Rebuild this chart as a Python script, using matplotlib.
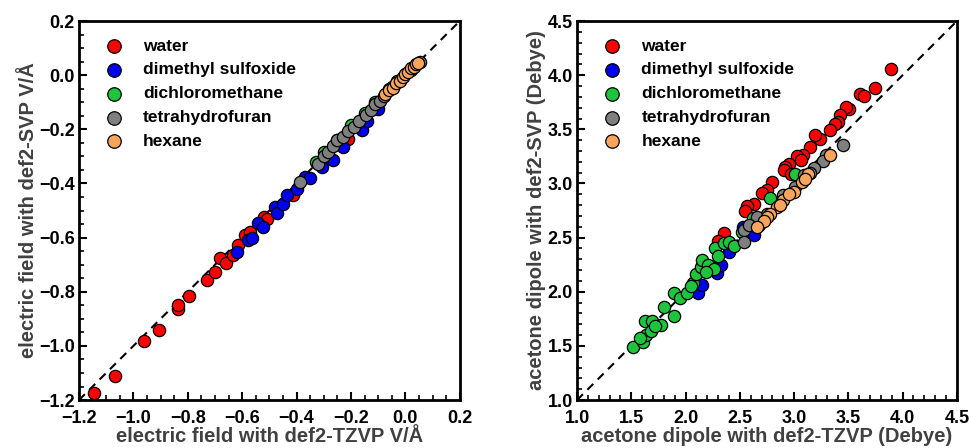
import matplotlib
matplotlib.use("Agg")
import matplotlib.pyplot as plt
from matplotlib.ticker import MultipleLocator
import numpy as np

plt.rcParams["font.family"] = ["Liberation Sans", "DejaVu Sans"]
plt.rcParams["font.weight"] = "bold"

SOLVENTS = ["water", "dimethyl sulfoxide", "dichloromethane", "tetrahydrofuran", "hexane"]
COLORS = ["#ff0000", "#0000ee", "#1ec43c", "#7f7f7f", "#f8a45c"]

# left panel: electric field (V/Å), def2-TZVP (x) vs def2-SVP (y)
field_water_x = [-1.144, -1.068, -0.961, -0.905, -0.837, -0.835, -0.795, -0.728, -0.700, -0.682,
                 -0.660, -0.633, -0.614, -0.590, -0.572, -0.520, -0.510, -0.412, -0.210, -0.300]
field_water_y = [-1.175, -1.111, -0.981, -0.941, -0.864, -0.849, -0.816, -0.757, -0.726, -0.677,
                 -0.695, -0.665, -0.628, -0.590, -0.579, -0.525, -0.530, -0.443, -0.234, -0.305]
field_dmso_x = [-0.620, -0.578, -0.565, -0.541, -0.525, -0.480, -0.472, -0.449, -0.437, -0.400,
                -0.370, -0.352, -0.308, -0.265, -0.230, -0.161, -0.140, -0.100]
field_dmso_y = [-0.652, -0.609, -0.600, -0.547, -0.560, -0.486, -0.510, -0.474, -0.443, -0.420,
                -0.376, -0.380, -0.339, -0.314, -0.265, -0.203, -0.170, -0.125]
field_dcm_x = [-0.330, -0.300, -0.250, -0.200, -0.150, -0.110, -0.060, -0.030]
field_dcm_y = [-0.320, -0.285, -0.240, -0.185, -0.140, -0.100, -0.050, -0.020]
field_thf_x = [-0.388, -0.320, -0.300, -0.284, -0.265, -0.253, -0.230, -0.210, -0.190, -0.170,
               -0.143, -0.125, -0.110, -0.095, -0.080, -0.050, 0.020, 0.053]
field_thf_y = [-0.394, -0.327, -0.300, -0.283, -0.262, -0.240, -0.230, -0.205, -0.190, -0.170,
               -0.148, -0.128, -0.105, -0.095, -0.075, -0.045, 0.020, 0.049]
field_hex_x = [-0.075, -0.060, -0.045, -0.035, -0.020, -0.010, 0.000, 0.010, 0.020, 0.030, 0.040, 0.045]
field_hex_y = [-0.070, -0.055, -0.048, -0.030, -0.020, -0.005, 0.005, 0.010, 0.025, 0.030, 0.040, 0.045]

# right panel: acetone dipole (Debye)
dip_water_x = [3.892, 3.748, 3.610, 3.640, 3.502, 3.480, 3.420, 3.400, 3.380, 3.330, 3.240, 3.190,
               3.150, 3.080, 3.030, 3.060, 2.950, 2.920, 2.910, 2.970, 2.800, 2.750, 2.700, 2.630,
               2.570, 2.550, 2.350, 2.300]
dip_water_y = [4.060, 3.885, 3.830, 3.810, 3.690, 3.710, 3.630, 3.570, 3.550, 3.490, 3.410, 3.450,
               3.340, 3.260, 3.250, 3.220, 3.180, 3.150, 3.120, 3.090, 3.010, 2.940, 2.910, 2.810,
               2.790, 2.750, 2.540, 2.470]
dip_dmso_x = [2.110, 2.150, 2.290, 2.330, 2.410, 2.530, 2.630, 2.680, 2.400]
dip_dmso_y = [1.990, 2.060, 2.170, 2.250, 2.400, 2.600, 2.520, 2.620, 2.370]
dip_dcm_x = [1.520, 1.610, 1.640, 1.630, 1.690, 1.680, 1.770, 1.800, 1.890, 1.890, 1.950, 2.010,
             2.070, 2.100, 2.140, 2.150, 2.210, 2.260, 2.190, 2.270, 2.350, 2.400, 2.450, 2.520,
             2.620, 2.780, 3.010, 1.580, 1.720, 2.050, 2.300]
dip_dcm_y = [1.490, 1.540, 1.600, 1.730, 1.730, 1.640, 1.690, 1.860, 1.780, 1.990, 1.940, 1.990,
             2.080, 2.160, 2.230, 2.290, 2.250, 2.210, 2.180, 2.400, 2.450, 2.460, 2.420, 2.550,
             2.680, 2.870, 3.090, 1.570, 1.680, 2.050, 2.330]
dip_thf_x = [3.450, 3.290, 3.270, 3.180, 3.150, 3.090, 3.010, 2.900, 2.750, 2.660, 2.540, 2.540, 2.580]
dip_thf_y = [3.360, 3.260, 3.210, 3.140, 3.100, 3.080, 2.970, 2.890, 2.720, 2.690, 2.570, 2.460, 2.620]
dip_hex_x = [3.330, 3.130, 3.070, 3.000, 2.900, 2.840, 2.780, 2.750, 2.720, 2.660, 2.950, 2.870, 3.100]
dip_hex_y = [3.260, 3.090, 3.010, 2.920, 2.850, 2.780, 2.720, 2.690, 2.650, 2.600, 2.900, 2.800, 3.040]

field_x = [field_water_x, field_dmso_x, field_dcm_x, field_thf_x, field_hex_x]
field_y = [field_water_y, field_dmso_y, field_dcm_y, field_thf_y, field_hex_y]
dip_x = [dip_water_x, dip_dmso_x, dip_dcm_x, dip_thf_x, dip_hex_x]
dip_y = [dip_water_y, dip_dmso_y, dip_dcm_y, dip_thf_y, dip_hex_y]


def panel(ax, xs, ys, lim, major, minor, xlabel, ylabel, fmt):
    ax.plot(lim, lim, ls=(0, (4, 3)), color="black", lw=1.5, zorder=1)
    for name, c, x, y in zip(SOLVENTS, COLORS, xs, ys):
        ax.scatter(x, y, s=78, color=c, edgecolors="black", linewidths=0.9, label=name, zorder=2)
    ax.set_xlim(lim); ax.set_ylim(lim)
    ax.xaxis.set_major_locator(MultipleLocator(major)); ax.yaxis.set_major_locator(MultipleLocator(major))
    ax.xaxis.set_minor_locator(MultipleLocator(minor)); ax.yaxis.set_minor_locator(MultipleLocator(minor))
    ax.xaxis.set_major_formatter(plt.FuncFormatter(lambda v, p: fmt.format(v).replace("-", "\u2212")))
    ax.yaxis.set_major_formatter(plt.FuncFormatter(lambda v, p: fmt.format(v).replace("-", "\u2212")))
    ax.tick_params(which="major", direction="in", length=6, width=1.5, labelsize=13, pad=3)
    ax.tick_params(axis="x", which="major", pad=7)
    ax.tick_params(which="minor", direction="in", length=3.5, width=1.2)
    for s in ax.spines.values():
        s.set_linewidth(2)
    for lab in ax.get_xticklabels() + ax.get_yticklabels():
        lab.set_fontweight("bold")
    ax.set_xlabel(xlabel, fontsize=14.5, fontweight="bold", color="#404040", labelpad=0)
    ax.set_ylabel(ylabel, fontsize=14.5, fontweight="bold", color="#404040", labelpad=1)
    leg = ax.legend(loc="upper left", frameon=False, prop={"weight": "bold", "size": 12.5},
                    handletextpad=0.7, labelspacing=0.5, borderaxespad=0.6, borderpad=0.4,
                    scatterpoints=1, markerscale=1.1)
    return leg


fig = plt.figure(figsize=(9.69, 4.48), dpi=100)
ax1 = fig.add_axes([0.0815, 0.107, 0.393, 0.846])
ax2 = fig.add_axes([0.5955, 0.107, 0.392, 0.846])

panel(ax1, field_x, field_y, [-1.2, 0.2], 0.2, 0.05,
      "electric field with def2-TZVP V/\u00c5", "electric field with def2-SVP V/\u00c5", "{:.1f}")
panel(ax2, dip_x, dip_y, [1.0, 4.5], 0.5, 0.1,
      "acetone dipole with def2-TZVP (Debye)", "acetone dipole with def2-SVP (Debye)", "{:.1f}")

fig.savefig("out.png", dpi=100)
